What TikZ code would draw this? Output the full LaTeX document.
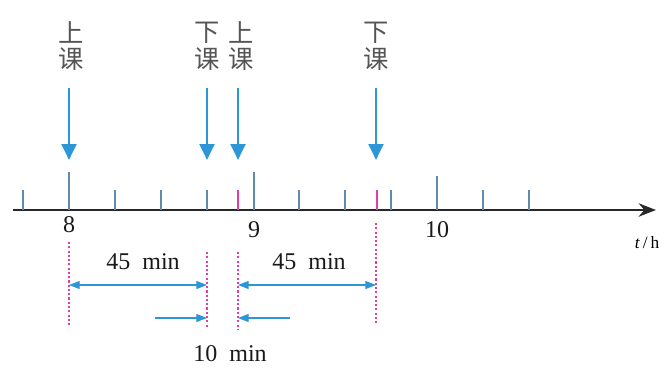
\documentclass[tikz,border=0pt]{standalone}
\usepackage{fontspec}
\setmainfont{Liberation Serif}
\newfontfamily\cjk{Noto Sans CJK SC}
\usetikzlibrary{arrows.meta}
\definecolor{arrblue}{RGB}{45,150,215}
\definecolor{tickblue}{RGB}{95,140,170}
\definecolor{dotmag}{RGB}{228,60,160}
\definecolor{txtgray}{RGB}{85,85,85}
\definecolor{axisgray}{RGB}{40,40,40}
\begin{document}
\begin{tikzpicture}[x=0.75pt,y=-0.75pt,
  bigarrow/.style={draw=arrblue, line width=2.2pt, -{Triangle[width=11pt,length=12pt]}},
  dimarrow/.style={draw=arrblue, line width=0.8pt, {Triangle[width=6pt,length=8pt]}-{Triangle[width=6pt,length=8pt]}},
  onearrow/.style={draw=arrblue, line width=0.8pt, -{Triangle[width=6pt,length=8pt]}},
  dotline/.style={draw=dotmag, line width=2pt, dash pattern=on 1.6pt off 1.6pt},
  axisline/.style={draw=axisgray, line width=1.8pt, -{Stealth[length=13pt,width=10pt]}},
  shorttick/.style={draw=tickblue, line width=0.8pt},
  magtick/.style={draw=dotmag, line width=0.8pt},
  cjklabel/.style={font=\cjk\fontsize{19}{20}\selectfont, text=txtgray, align=center, inner sep=0pt},
  numlabel/.style={font=\fontsize{18}{20}\selectfont, text=black!90, inner sep=0pt}
]
\useasboundingbox (0,0) rectangle (665,369);

% axis
\coordinate (ax0) at (13,210);
\coordinate (ax1) at (656,210);
\draw[axisline] (ax0) -- (ax1);

% quarter-hour ticks (hour positions drawn longer below)
\foreach \i in {0,2,3,4,6,7,8,10,11}{
  \pgfmathsetmacro{\xx}{23+46*\i}
  \coordinate (q\i) at (\xx,210);
  \coordinate (qt\i) at (\xx,190);
  \draw[shorttick] (q\i) -- (qt\i);
}
% hour ticks (longer)
\coordinate (h8) at (69,210);   \coordinate (h8t) at (69,172);
\coordinate (h9) at (254,210);  \coordinate (h9t) at (254,172);
\coordinate (h10) at (437,210); \coordinate (h10t) at (437,176);
\draw[shorttick] (h8) -- (h8t);
\draw[shorttick] (h9) -- (h9t);
\draw[shorttick] (h10) -- (h10t);
% class-time ticks
\coordinate (m1) at (238,210); \coordinate (m1t) at (238,190);
\coordinate (m2) at (377,210); \coordinate (m2t) at (377,190);
\draw[magtick] (m1) -- (m1t);
\draw[magtick] (m2) -- (m2t);

% axis labels
\node[numlabel] (l8) at (69,225) {8};
\node[numlabel] (l9) at (254,230) {9};
\node[numlabel] (l10) at (437,230) {10};
\node[font=\fontsize{13}{14}\selectfont, inner sep=0pt] (lt) at (647,243) {\textit{t}\,/\,h};

% event labels
\node[cjklabel] (e1) at (71,46) {上\\课};
\node[cjklabel] (e2) at (207,46) {下\\课};
\node[cjklabel] (e3) at (241,46) {上\\课};
\node[cjklabel] (e4) at (376,46) {下\\课};

% big arrows
\coordinate (a1s) at (69,88);  \coordinate (a1e) at (69,160);
\coordinate (a2s) at (207,88); \coordinate (a2e) at (207,160);
\coordinate (a3s) at (238,88); \coordinate (a3e) at (238,160);
\coordinate (a4s) at (376,88); \coordinate (a4e) at (376,160);
\draw[bigarrow] (a1s) -- (a1e);
\draw[bigarrow] (a2s) -- (a2e);
\draw[bigarrow] (a3s) -- (a3e);
\draw[bigarrow] (a4s) -- (a4e);

% dotted lines
\coordinate (d1a) at (69,242);  \coordinate (d1b) at (69,327);
\coordinate (d2a) at (207,252); \coordinate (d2b) at (207,328);
\coordinate (d3a) at (238,252); \coordinate (d3b) at (238,330);
\coordinate (d4a) at (376,223); \coordinate (d4b) at (376,323);
\draw[dotline] (d1a) -- (d1b);
\draw[dotline] (d2a) -- (d2b);
\draw[dotline] (d3a) -- (d3b);
\draw[dotline] (d4a) -- (d4b);

% 45 min dimensions
\coordinate (p1) at (69,285);  \coordinate (p2) at (207,285);
\coordinate (p3) at (238,285); \coordinate (p4) at (376,285);
\draw[dimarrow] (p1) -- (p2);
\draw[dimarrow] (p3) -- (p4);
\node[numlabel] (n45a) at (143,262) {45\hspace{0.5em}min};
\node[numlabel] (n45b) at (309,262) {45\hspace{0.5em}min};

% 10 min
\coordinate (b1s) at (155,318); \coordinate (b1e) at (207,318);
\coordinate (b2s) at (290,318); \coordinate (b2e) at (238,318);
\draw[onearrow] (b1s) -- (b1e);
\draw[onearrow] (b2s) -- (b2e);
\node[numlabel] (n10) at (230,354) {10\hspace{0.5em}min};
\end{tikzpicture}
\end{document}
